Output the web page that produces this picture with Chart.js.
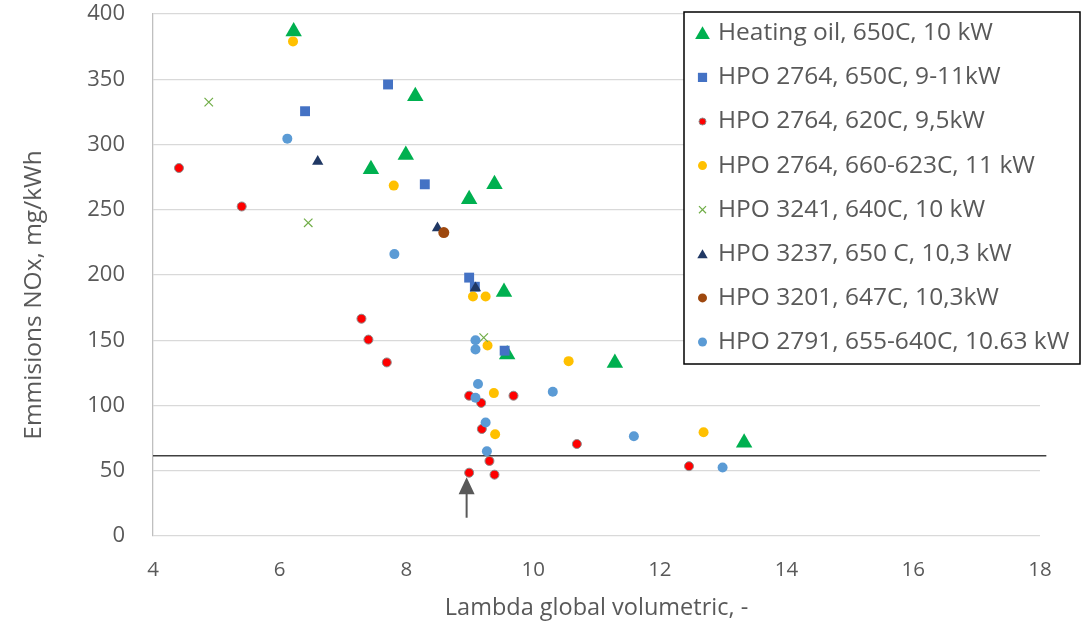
<!DOCTYPE html>
<html><head><meta charset="utf-8">
<script src="https://cdn.jsdelivr.net/npm/chart.js@4.4.0/dist/chart.umd.min.js"></script>
<style>html,body{margin:0;padding:0;background:#fff;}#wrap{width:1087px;height:627px;position:relative;}</style>
</head><body><div id="wrap"><canvas id="c"></canvas></div>
<script>
// ---- data ----
const xTickValues = [4, 6, 8, 10, 12, 14, 16, 18];
const yTickValues = [0, 50, 100, 150, 200, 250, 300, 350, 400];
const xAxisTitle = 'Lambda global volumetric, -';
const yAxisTitle = 'Emmisions NOx, mg/kWh';

const seriesLabels = [
  'Heating oil, 650C, 10 kW',
  'HPO 2764, 650C, 9-11kW',
  'HPO 2764, 620C, 9,5kW',
  'HPO 2764, 660-623C, 11 kW',
  'HPO 3241, 640C, 10 kW',
  'HPO 3237, 650 C, 10,3 kW',
  'HPO 3201, 647C, 10,3kW',
  'HPO 2791, 655-640C, 10.63 kW'
];

const heatingOilX = [6.22, 8.14, 7.99, 7.44, 8.99, 9.39, 9.54, 9.59, 11.29, 13.33];
const heatingOilY = [386.5, 337, 292, 281, 258, 269.5, 187, 139, 132.5, 71.5];

const hpo2764aX = [7.71, 6.40, 8.29, 8.99, 9.08, 9.55];
const hpo2764aY = [346, 325.5, 269.5, 198, 191, 142];

const hpo2764bX = [4.41, 5.40, 7.29, 7.40, 7.69, 8.99, 9.18, 9.69, 9.19, 10.69, 9.31, 8.99, 9.39, 12.46];
const hpo2764bY = [282, 252.5, 166.5, 150.5, 133, 107.5, 102, 107.5, 82, 70.5, 57.5, 48.5, 47, 53.5];

const hpo2764cX = [6.21, 7.80, 9.05, 9.25, 9.28, 9.38, 9.40, 10.56, 12.69];
const hpo2764cY = [379, 268.5, 183.5, 183.5, 146, 109.5, 78, 134, 79.5];

const hpo3241X = [4.88, 6.45, 9.22];
const hpo3241Y = [332.5, 240, 152];

const hpo3237X = [6.60, 8.49, 9.09];
const hpo3237Y = [287, 236, 190];

const hpo3201X = [8.59];
const hpo3201Y = [232.5];

const hpo2791X = [6.12, 7.81, 9.09, 9.09, 9.13, 9.09, 9.25, 9.27, 10.31, 11.59, 12.99];
const hpo2791Y = [304.5, 216, 150, 143, 116.5, 106, 87, 65, 110.5, 76.5, 52.5];

const limitLineX = [4, 18.1];
const limitLineY = [61.5, 61.5];

const arrowX = 8.95;
const arrowFromY = 14;
const arrowToY = 45;

// ---- helpers ----
const pts = (xs, ys) => xs.map((x, i) => ({x: x, y: ys[i]}));
const TXT = '#595959';
const FONT = "'Open Sans', 'DejaVu Sans', sans-serif";

const styles = [
  {pointStyle: 'triangle', r: 9.5, bg: '#00B050', bc: '#00B050', bw: 0, lr: 8.5},
  {pointStyle: 'rect', r: 7, bg: '#4472C4', bc: '#4472C4', bw: 0, lr: 6.5},
  {pointStyle: 'circle', r: 4.5, bg: '#FF0000', bc: '#8C8C8C', bw: 1, lr: 3.5},
  {pointStyle: 'circle', r: 5, bg: '#FFC000', bc: '#FFC000', bw: 0, lr: 4.5},
  {pointStyle: 'crossRot', r: 6, bg: '#70AD47', bc: '#70AD47', bw: 1.2, lr: 5},
  {pointStyle: 'triangle', r: 6.5, bg: '#203864', bc: '#203864', bw: 0, lr: 6},
  {pointStyle: 'circle', r: 5.5, bg: '#9E480E', bc: '#9E480E', bw: 0, lr: 4.5},
  {pointStyle: 'circle', r: 5, bg: '#5B9BD5', bc: '#5B9BD5', bw: 0, lr: 4.5}
];
const seriesData = [
  pts(heatingOilX, heatingOilY),
  pts(hpo2764aX, hpo2764aY),
  pts(hpo2764bX, hpo2764bY),
  pts(hpo2764cX, hpo2764cY),
  pts(hpo3241X, hpo3241Y),
  pts(hpo3237X, hpo3237Y),
  pts(hpo3201X, hpo3201Y),
  pts(hpo2791X, hpo2791Y)
];

const datasets = [{
  type: 'line',
  label: 'limit',
  data: pts(limitLineX, limitLineY),
  borderColor: '#404040',
  borderWidth: 1.5,
  pointRadius: 0,
  fill: false,
  clip: false,
  order: 10
}];
seriesData.forEach((d, i) => {
  const s = styles[i];
  datasets.push({
    type: 'scatter',
    label: seriesLabels[i],
    data: d,
    pointStyle: s.pointStyle,
    pointRadius: s.r,
    pointHoverRadius: s.r,
    backgroundColor: s.bg,
    borderColor: s.bc,
    borderWidth: s.bw,
    legendRadius: s.lr,
    order: 8 - i
  });
});

const customLegend = {
  id: 'customLegend',
  afterDraw(chart) {
    const ctx = chart.ctx;
    const left = 684, top = 12, right = 1080, bottom = 364;
    ctx.save();
    ctx.fillStyle = '#fff';
    ctx.fillRect(left, top, right - left, bottom - top);
    ctx.strokeStyle = '#000';
    ctx.lineWidth = 1.5;
    ctx.strokeRect(left, top, right - left, bottom - top);
    let idx = 0;
    chart.data.datasets.forEach((ds) => {
      if (ds.type !== 'scatter') return;
      const cy = 33.3 + idx * 44.1;
      ctx.fillStyle = ds.backgroundColor;
      ctx.strokeStyle = ds.borderColor;
      ctx.lineWidth = ds.borderWidth || 0;
      Chart.helpers.drawPoint(ctx, {
        pointStyle: ds.pointStyle, rotation: 0,
        borderWidth: ds.borderWidth, radius: ds.legendRadius
      }, 702.5, cy + (ds.pointStyle === 'triangle' ? 1.5 : 0));
      ctx.fillStyle = TXT;
      ctx.font = '24.5px ' + FONT;
      ctx.textBaseline = 'middle';
      ctx.textAlign = 'left';
      ctx.fillText(ds.label, 718, cy);
      idx++;
    });
    ctx.restore();
  }
};

const yTitlePlugin = {
  id: 'yTitlePlugin',
  afterDraw(chart) {
    const ctx = chart.ctx;
    const ys = chart.scales.y;
    const cy = (ys.top + ys.bottom) / 2 + 20;
    ctx.save();
    ctx.translate(34, cy);
    ctx.rotate(-Math.PI / 2);
    ctx.fillStyle = TXT;
    ctx.font = '24.5px ' + FONT;
    ctx.textAlign = 'center';
    ctx.textBaseline = 'middle';
    ctx.fillText(yAxisTitle, 0, 0);
    ctx.restore();
  }
};

const arrowPlugin = {
  id: 'arrowPlugin',
  afterDatasetsDraw(chart) {
    const ctx = chart.ctx;
    const xs = chart.scales.x, ys = chart.scales.y;
    const px = xs.getPixelForValue(arrowX);
    const y0 = ys.getPixelForValue(arrowFromY);
    const y1 = ys.getPixelForValue(arrowToY);
    ctx.save();
    ctx.strokeStyle = '#595959';
    ctx.fillStyle = '#595959';
    ctx.lineWidth = 2;
    ctx.beginPath();
    ctx.moveTo(px, y0);
    ctx.lineTo(px, y1 + 14);
    ctx.stroke();
    ctx.beginPath();
    ctx.moveTo(px, y1);
    ctx.lineTo(px - 8, y1 + 17);
    ctx.lineTo(px + 8, y1 + 17);
    ctx.closePath();
    ctx.fill();
    ctx.restore();
  }
};

new Chart(document.getElementById('c'), {
  type: 'scatter',
  data: {datasets: datasets},
  options: {
    responsive: true,
    maintainAspectRatio: false,
    animation: false,
    devicePixelRatio: 1,
    layout: {padding: {top: 14, right: 47, left: 0, bottom: 0}},
    plugins: {legend: {display: false}, tooltip: {enabled: false}},
    scales: {
      x: {
        type: 'linear', min: 4, max: 18,
        afterBuildTicks(s) { s.ticks = xTickValues.map(v => ({value: v})); },
        ticks: {font: {family: FONT, size: 20.5}, color: TXT, padding: 22},
        grid: {display: false, drawTicks: false},
        border: {display: false},
        title: {display: true, text: xAxisTitle, color: TXT, font: {family: FONT, size: 23.5}, padding: {top: 0, bottom: 5}},
        afterFit(s) { s.height = 91; s.paddingLeft = 0; s.paddingRight = 0; }
      },
      y: {
        type: 'linear', min: 0, max: 400,
        afterBuildTicks(s) { s.ticks = yTickValues.map(v => ({value: v})); },
        ticks: {font: {family: FONT, size: 22}, color: TXT, padding: 28},
        grid: {color: '#D9D9D9', lineWidth: 1.3, drawTicks: false},
        border: {display: true, color: '#BFBFBF', width: 1.3},
        title: {display: false},
        afterFit(s) { s.width = 153; s.paddingTop = 0; s.paddingBottom = 0; }
      }
    }
  },
  plugins: [arrowPlugin, customLegend, yTitlePlugin]
});
</script></body></html>
